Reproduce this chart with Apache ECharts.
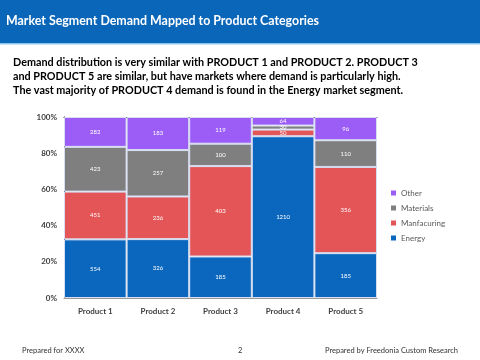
<!DOCTYPE html>
<html><head><meta charset="utf-8">
<script src="https://cdn.jsdelivr.net/npm/echarts@6/dist/echarts.min.js"></script>
<style>html,body{margin:0;padding:0;background:#fff}#c{width:480px;height:360px}</style>
</head><body><div id="c"></div>
<script>
const categories = ['Product 1','Product 2','Product 3','Product 4','Product 5'];
const energy = [554, 326, 185, 1210, 185];
const manufacturing = [451, 236, 403, 50, 356];
const materials = [423, 257, 100, 30, 110];
const other = [282, 183, 119, 64, 96];
const seriesNames = ['Energy','Manfacuring','Materials','Other'];
const yTicks = ['0%','20%','40%','60%','80%','100%'];
const colors = ['#0a67bd','#e35556','#7f7f7f','#9c5cf6'];

const raw = [energy, manufacturing, materials, other];
const totals = categories.map((_, i) => raw.reduce((s, a) => s + a[i], 0));

const chart = echarts.init(document.getElementById('c'));
const FONT = 'Lato, "Open Sans", sans-serif';
chart.setOption({
  animation: false,
  textStyle: { fontFamily: FONT },
  graphic: [
    { type: 'rect', shape: { x: 0, y: 0, width: 480, height: 43 }, style: { fill: '#0a66b8' } },
    { type: 'rect', shape: { x: 0, y: 43, width: 480, height: 1.5 }, style: { fill: '#8cc6ee' } },
    { type: 'text', left: 6, top: 15, style: { text: 'Market Segment Demand Mapped to Product Categories', fill: '#fff', font: 'bold 12.4px ' + FONT } },
    { type: 'text', left: 13, top: 55, style: { text: 'Demand distribution is very similar with PRODUCT 1 and PRODUCT 2. PRODUCT 3\nand PRODUCT 5 are similar, but have markets where demand is particularly high.\nThe vast majority of PRODUCT 4 demand is found in the Energy market segment.', fill: '#000', font: 'bold 10.8px ' + FONT, lineHeight: 14.2 } },
    { type: 'text', left: 22, top: 347, style: { text: 'Prepared for XXXX', fill: '#333', font: '7.5px ' + FONT } },
    { type: 'text', left: 238, top: 347, style: { text: '2', fill: '#333', font: '7.5px ' + FONT } },
    { type: 'text', right: 22, top: 347, style: { text: 'Prepared by Freedonia Custom Research', fill: '#333', font: '7.5px ' + FONT } }
  ],
  grid: { left: 64, right: 103, top: 117, bottom: 62 },
  legend: {
    orient: 'vertical', left: 386, top: 184, itemGap: 7,
    icon: 'rect', itemWidth: 5, itemHeight: 5,
    itemStyle: { borderWidth: 0 },
    data: ['Other','Materials','Manfacuring','Energy'],
    textStyle: { color: '#595959', fontSize: 8, fontFamily: FONT }
  },
  xAxis: [{
    type: 'category', data: categories,
    axisLine: { lineStyle: { color: '#999' } }, axisTick: { show: false },
    axisLabel: { color: '#404040', fontSize: 8, fontWeight: 'bold', margin: 9 }
  }, {
    type: 'category', position: 'top', data: categories,
    axisLine: { show: true, lineStyle: { color: '#1a1a2e' } }, axisTick: { show: false }, axisLabel: { show: false }
  }],
  yAxis: {
    type: 'value', min: 0, max: 100, interval: 20,
    axisLine: { show: true, lineStyle: { color: '#1a1a2e' } },
    splitLine: { show: false },
    axisLabel: { color: '#404040', fontSize: 8, fontWeight: 'bold', margin: 7, formatter: v => yTicks[v / 20] }
  },
  series: raw.map((arr, k) => ({
    name: seriesNames[k], type: 'bar', stack: 'all', barWidth: '100%',
    itemStyle: { color: colors[k], borderColor: '#d7def2', borderWidth: 1 },
    label: { show: true, position: 'inside', color: '#fff', fontSize: 6, formatter: p => arr[p.dataIndex] },
    data: arr.map((v, i) => v / totals[i] * 100)
  }))
});
</script></body></html>
